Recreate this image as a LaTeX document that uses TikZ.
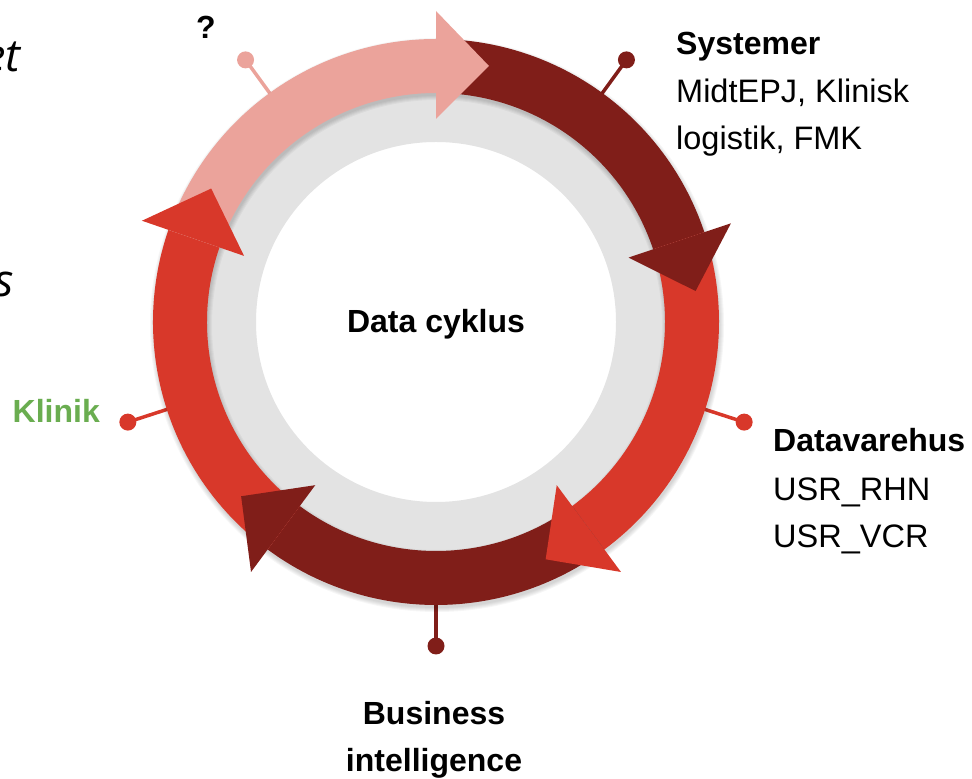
\documentclass[tikz,border=0pt]{standalone}
\usepackage{fontspec}
\setmainfont{Liberation Sans}
\newfontfamily\cutfont{Open Sans}
\usetikzlibrary{calc}
\definecolor{pinkc}{HTML}{EBA39B}
\definecolor{darkc}{HTML}{801E19}
\definecolor{redc}{HTML}{D8382A}
\definecolor{grayc}{HTML}{E3E3E3}
\definecolor{greenc}{HTML}{6AAD50}
\newcommand\bandarc[3]{\fill[#3] ($(C)+(#1:283pt)$) arc[start angle=#1, end angle=#2, radius=283pt] -- ($(C)+(#2:229pt)$) arc[start angle=#2, end angle=#1, radius=229pt] -- cycle;}
\newcommand\headtri[2]{\fill[#2] ($(C)+(#1:311pt)$) -- ($(C)+(#1:256pt)+(#1-90:53pt)$) -- ($(C)+(#1:203pt)$) -- cycle;}
\tikzset{
  lbl/.style={font=\fontsize{32.5}{38}\selectfont, inner sep=0pt, text=black},
  blbl/.style={lbl, font=\fontsize{32}{38}\selectfont\bfseries},
  cut/.style={font=\fontsize{45}{50}\selectfont\cutfont\itshape, inner sep=0pt, text=black},
  pindot/.style={circle, inner sep=0pt, minimum size=17pt},
  pinline/.style={line width=3.5pt},
  softshadow/.style={draw=black, opacity=0.035}
}
\begin{document}
\begin{tikzpicture}[x=1pt,y=1pt]
\useasboundingbox (0,0) rectangle (972,779);
\clip (0,0) rectangle (972,779);
\coordinate (C) at (436,457);
\coordinate (CS) at (437,454);
% gray ring
\fill[grayc, even odd rule] (C) circle[radius=240pt] (C) circle[radius=180pt];
% pins
\foreach \a/\col/\n in {126/pinkc/q, 54/darkc/sys, -18/redc/dw, -90/darkc/bi, -162/redc/kl}{
  \coordinate (s\n) at ($(C)+(\a:280pt)$);
  \node[pindot, fill=\col] (d\n) at ($(C)+(\a:324pt)$) {};
  \draw[pinline, \col] (s\n) -- (d\n.center);
}
% soft shadow of the ring of arrows
\foreach \w in {54,56,58,60,62}{
  \draw[softshadow, line width=\w pt] (CS) circle[radius=256pt];
}
% bands
\bandarc{90}{18.5}{darkc}
\bandarc{18.5}{-53.5}{redc}
\bandarc{-53.5}{-126.5}{darkc}
\bandarc{-126.5}{-199}{redc}
\bandarc{161}{90}{pinkc}
% heads
\headtri{90}{pinkc}
\headtri{18.5}{darkc}
\headtri{-53.5}{redc}
\headtri{-126.5}{darkc}
\headtri{-199}{redc}
% texts
\node[blbl, anchor=base] (center) at (436,446) {Data cyklus};
\node[blbl, anchor=base west] (systemer) at (676,724) {Systemer};
\node[lbl, anchor=base west] (sys2) at (676,676) {MidtEPJ, Klinisk};
\node[lbl, anchor=base west] (sys3) at (676,629) {logistik, FMK};
\node[blbl, anchor=base west] (dwh) at (773,327) {Datavarehus};
\node[lbl, anchor=base west] (dwh2) at (773,278) {USR\_RHN};
\node[lbl, anchor=base west] (dwh3) at (773,231) {USR\_VCR};
\node[blbl, anchor=base] (bi1) at (434,54) {Business};
\node[blbl, anchor=base] (bi2) at (434,7) {intelligence};
\node[blbl, anchor=base east, text=greenc] (klinik) at (100,356) {Klinik};
\node[blbl, anchor=base] (qm) at (206,740) {?};
\node[cut, anchor=base east] (cut1) at (21,707) {et};
\node[cut, anchor=base east] (cut2) at (14,482) {s};
\end{tikzpicture}
\end{document}
